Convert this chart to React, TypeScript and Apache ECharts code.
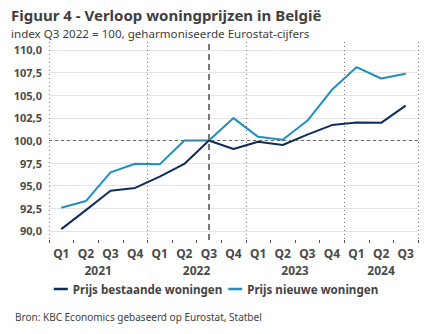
import React, { useEffect, useRef } from "react";
import * as echarts from "echarts";

const quarters = ["Q1", "Q2", "Q3", "Q4", "Q1", "Q2", "Q3", "Q4", "Q1", "Q2", "Q3", "Q4", "Q1", "Q2", "Q3"];
const quarterYears = [2021, 2021, 2021, 2021, 2022, 2022, 2022, 2022, 2023, 2023, 2023, 2023, 2024, 2024, 2024];
const years = [2021, 2022, 2023, 2024];
const bestaande = [90.2, 92.3, 94.45, 94.75, 96.0, 97.4, 100.0, 99.05, 99.85, 99.5, 100.65, 101.7, 101.98, 101.95, 103.85];
const nieuwe = [92.57, 93.3, 96.47, 97.43, 97.36, 100.0, 100.0, 102.47, 100.4, 100.07, 102.17, 105.6, 108.1, 106.85, 107.37];
const yTicks = [90, 92.5, 95, 97.5, 100, 102.5, 105, 107.5, 110];
const baseIndex = 6; // Q3 2022

const FONT = "Noto Sans";
const DARK = "#0d2e5c";
const LIGHT = "#1f8fc1";

export default function App() {
  const ref = useRef<HTMLDivElement>(null);
  useEffect(() => {
    if (!ref.current) return;
    const chart = echarts.init(ref.current, undefined, { renderer: "svg" });
    const yearCenters = years.map((yr) => {
      const idx = quarterYears.map((q, i) => (q === yr ? i : -1)).filter((i) => i >= 0);
      return idx.reduce((a, b) => a + b, 0) / idx.length + 0.5;
    });
    const boundaryIdx = years.map((yr) => quarterYears.indexOf(yr));
    chart.setOption({
      animation: false,
      textStyle: { fontFamily: FONT },
      title: [
        { text: "Figuur 4 - Verloop woningprijzen in België", left: 6, top: 2, textStyle: { fontFamily: FONT, fontSize: 15, fontWeight: "bold", color: "#404040" } },
        { text: "index Q3 2022 = 100, geharmoniseerde Eurostat-cijfers", left: 6, top: 22, textStyle: { fontFamily: FONT, fontSize: 11.6, fontWeight: "normal", color: "#404040" } },
        { text: "Bron: KBC Economics gebaseerd op Eurostat, Statbel", left: 10, top: 307, textStyle: { fontFamily: FONT, fontSize: 10, fontWeight: "normal", color: "#404040" } },
      ],
      legend: {
        bottom: 34,
        left: "center",
        icon: "rect",
        itemWidth: 14,
        itemHeight: 2.5,
        itemGap: 6,
        textStyle: { fontFamily: FONT, fontSize: 11.6, fontWeight: "bold", color: "#444" },
        data: ["Prijs bestaande woningen", "Prijs nieuwe woningen"],
      },
      grid: { left: 49, right: 14, top: 42, height: 198 },
      xAxis: [
        {
          type: "category",
          data: quarters,
          boundaryGap: true,
          axisLine: { show: false },
          axisTick: { show: true, interval: 0, length: 3, lineStyle: { color: "#555" } },
          axisLabel: { interval: 0, margin: 7, fontFamily: FONT, fontSize: 12, fontWeight: "bold", color: "#4a4a4a" },
          splitLine: {
            show: true,
            interval: (i: number) => boundaryIdx.includes(i),
            lineStyle: { type: [1, 3], color: "#777", width: 1 },
          },
        },
        {
          type: "value",
          min: 0,
          max: quarters.length,
          position: "bottom",
          offset: 17,
          axisLine: { show: false },
          axisTick: { show: false },
          splitLine: { show: false },
          axisLabel: {
            customValues: yearCenters,
            formatter: (v: number) => {
              const k = yearCenters.findIndex((c) => Math.abs(c - v) < 1e-6);
              return k >= 0 ? String(years[k]) : "";
            },
            margin: 7,
            fontFamily: FONT,
            fontSize: 12,
            fontWeight: "bold",
            color: "#4a4a4a",
          },
        },
      ],
      yAxis: {
        type: "value",
        min: 89.0,
        max: 110.88,
        axisLine: { show: false },
        axisTick: { show: false, customValues: yTicks },
        axisLabel: {
          customValues: yTicks,
          margin: 7,
          fontFamily: FONT,
          fontSize: 11,
          fontWeight: "bold",
          color: "#4a4a4a",
          formatter: (v: number) => v.toFixed(1).replace(".", ","),
        },
        splitLine: { show: true, lineStyle: { color: "#e3e3e3", width: 1 } },
      },
      series: [
        {
          name: "Prijs bestaande woningen",
          type: "line",
          data: bestaande,
          showSymbol: false,
          symbol: "none",
          lineStyle: { color: DARK, width: 2 },
          itemStyle: { color: DARK },
          z: 3,
          markLine: {
            silent: true,
            symbol: "none",
            label: { show: false },
            data: [
              { yAxis: 100, lineStyle: { type: [3, 3], color: "#666", width: 1 } },
              { xAxis: baseIndex, lineStyle: { type: [6, 4], color: "#777", width: 2 } },
            ],
          },
        },
        {
          name: "Prijs nieuwe woningen",
          type: "line",
          data: nieuwe,
          showSymbol: false,
          symbol: "none",
          lineStyle: { color: LIGHT, width: 2 },
          itemStyle: { color: LIGHT },
          z: 2,
        },
      ],
    });
    return () => chart.dispose();
  }, []);
  return <div ref={ref} style={{ width: 432, height: 334, margin: -8 }} />;
}
